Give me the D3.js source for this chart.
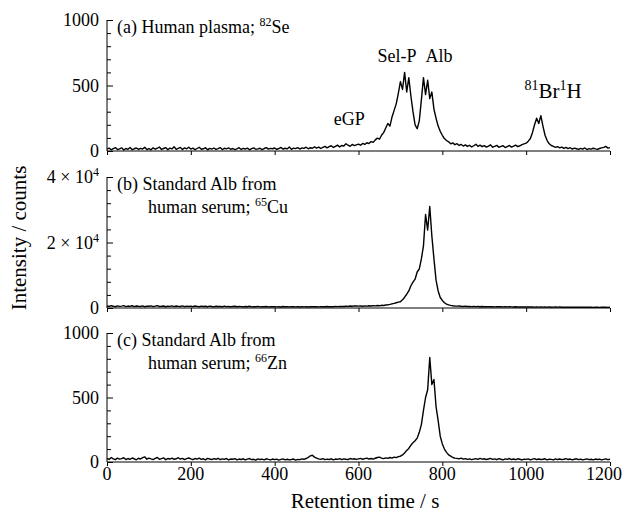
<!DOCTYPE html>
<html>
<head>
<meta charset="utf-8">
<script src="https://cdn.jsdelivr.net/npm/d3@7"></script>
<style>
  body { margin: 0; background: #fff; }
</style>
</head>
<body>
<svg width="624" height="515"></svg>
<script>
        // Sampling grid of the chromatograms (s)
        var sampleStep = 5;
        var times = d3.range(0, 1201, sampleStep);
        var xTicks = [0, 200, 400, 600, 800, 1000, 1200];

        // (a) Human plasma, 82Se (counts)
        var seCounts = [
            14,22,9,18,26,11,16,24,8,19,13,27,10,17,23,12,20,15,28,11,
            18,9,24,14,21,30,12,19,26,10,22,16,33,13,20,27,11,24,17,29,
            15,22,10,19,28,13,17,25,9,20,14,23,12,18,26,11,21,16,24,13,
            19,10,17,25,12,20,15,22,9,18,24,13,16,21,11,19,26,14,20,17,
            23,12,19,27,14,21,16,30,13,22,18,26,15,24,20,29,17,25,21,31,
            22,30,19,28,35,24,33,40,27,36,45,31,42,38,55,44,36,50,41,47,
            52,44,58,50,63,57,72,66,85,98,90,120,140,175,210,190,260,310,360,440,
            530,470,600,450,560,420,300,200,170,230,390,560,430,540,400,450,320,250,190,150,
            120,95,80,70,55,62,48,56,42,50,38,47,35,44,31,40,52,36,45,33,
            41,30,38,47,29,36,43,28,35,40,26,34,42,30,37,45,33,40,48,55,
            60,75,95,140,200,250,210,270,190,120,80,55,42,35,28,33,24,30,20,27,
            18,25,14,22,17,12,20,15,23,11,18,14,21,16,12,19,24,28,35,22,
            26
        ];

        // (b) Standard Alb from human serum, 65Cu (counts)
        var cuCounts = [
            600,450,700,520,380,650,480,560,720,410,590,500,680,430,610,520,470,640,390,560,
            520,640,410,580,700,460,530,620,380,560,490,660,420,600,510,450,630,400,570,480,
            540,430,610,490,380,560,450,520,400,580,470,350,530,440,500,390,560,420,480,370,
            450,520,380,490,410,360,470,400,520,350,430,390,480,340,420,380,450,330,400,370,
            420,350,390,310,440,360,400,330,380,420,340,390,310,370,350,400,320,380,360,410,
            380,340,420,360,390,450,370,430,400,480,420,460,510,440,550,500,590,530,640,600,
            560,610,520,640,580,690,600,720,650,760,700,820,780,900,980,1100,1250,1400,1600,1800,
            1900,2500,3300,4200,5200,6800,7900,8800,11000,11900,15000,19000,28600,23800,31000,22000,15000,8500,5200,3200,
            2300,1600,1200,950,800,700,620,560,600,520,480,540,460,500,430,470,410,450,390,440,
            400,430,370,420,380,350,410,360,390,340,380,330,370,350,320,360,300,340,310,350,
            320,290,340,300,270,310,280,320,260,300,270,290,250,280,300,260,290,240,270,250,
            280,240,260,230,270,220,250,240,210,260,230,250,200,240,220,190,230,210,240,200,
            220
        ];

        // (c) Standard Alb from human serum, 66Zn (counts)
        var znCounts = [
            28,20,35,24,18,30,22,26,33,19,27,21,31,25,17,29,23,34,40,22,
            30,24,19,28,35,21,26,32,18,27,23,30,20,25,33,22,28,19,26,31,
            24,18,27,22,30,20,25,17,28,23,19,26,21,29,18,24,20,27,16,23,
            21,26,17,23,19,25,16,22,27,18,21,15,24,19,22,17,25,20,16,23,
            18,22,15,20,24,17,21,16,19,23,15,20,18,24,21,27,35,48,52,38,
            30,24,20,26,18,22,19,25,17,23,20,26,18,24,21,19,27,22,25,20,
            24,28,21,26,30,23,27,22,29,35,38,30,26,32,28,35,30,38,34,42,
            45,55,70,90,105,130,150,165,185,230,290,400,500,560,810,600,640,430,320,200,
            140,100,75,55,45,35,30,28,24,30,22,26,20,24,18,22,26,20,28,22,
            25,19,23,28,20,24,18,26,21,17,24,20,27,19,23,18,25,21,16,22,
            20,24,17,22,26,18,23,19,21,25,17,22,20,16,24,19,23,18,21,26,
            19,23,17,21,25,18,22,16,20,24,18,21,17,23,19,22,16,20,24,18,
            21
        ];

        // Y ticks for each panel
        var yMajorA = [0, 500, 1000];
        var yMajorB = [0, 20000, 40000];
        var yMajorC = [0, 500, 1000];

        var serif = "'Liberation Serif', 'Times New Roman', Times, 'DejaVu Serif', serif";

        var svg = d3.select("svg")
                    .attr("font-family", serif);

        var xScale = d3.scaleLinear()
                        .domain([0, 1200])
                        .range([107, 610]);

        var panels = [
            {data: seCounts, major: yMajorA, minorStep: 100, top: 20, bottom: 151, xLabels: false,
             label: [["(a) Human plasma; ", "82", "Se"]]},
            {data: cuCounts, major: yMajorB, minorStep: 4000, top: 177, bottom: 308, xLabels: false, power: true,
             label: [["(b) Standard Alb from"], ["human serum; ", "65", "Cu"]]},
            {data: znCounts, major: yMajorC, minorStep: 100, top: 333, bottom: 462, xLabels: true,
             label: [["(c) Standard Alb from"], ["human serum; ", "66", "Zn"]]}
        ];

        function addText(sel) {
            return sel.append("text")
                .attr("font-family", serif)
                .attr("fill", "#000");
        }

        panels.forEach(function(p, k) {
            var yMax = d3.max(p.major);
            var yScale = d3.scaleLinear()
                            .domain([0, yMax])
                            .range([p.bottom, p.top]);
            p.yScale = yScale;

            var g = svg.append("g");

            // trace
            var line = d3.line()
                .x(function(d, i) { return xScale(times[i]); })
                .y(function(d) { return yScale(d); });

            g.append("path")
                .datum(p.data)
                .attr("d", line)
                .attr("fill", "none")
                .attr("stroke", "#000")
                .attr("stroke-width", 1.4)
                .attr("stroke-linejoin", "round");

            // y axis, ticks pointing inside
            var yAxis = d3.axisRight(yScale)
                .tickValues(d3.range(0, yMax + 1, p.minorStep))
                .tickSize(4)
                .tickFormat("");
            var ya = g.append("g")
                .attr("transform", "translate(107,0)")
                .call(yAxis);
            ya.selectAll("line").attr("stroke", "#000").attr("stroke-width", 1);
            ya.select(".domain").attr("d", "M0," + p.top + "V" + p.bottom).attr("stroke", "#000");
            ya.selectAll(".tick line").filter(function(d) { return p.major.indexOf(d) >= 0; })
                .attr("x2", 6);

            // y tick labels
            p.major.forEach(function(v) {
                var t = addText(g)
                    .attr("x", 99)
                    .attr("y", yScale(v))
                    .attr("dy", "0.35em")
                    .attr("text-anchor", "end")
                    .attr("font-size", "18px");
                if (p.power && v > 0) {
                    t.append("tspan").text((v / 10000) + " \u00d7 10");
                    t.append("tspan").attr("font-size", "12px").attr("dy", "-7").text("4");
                } else {
                    t.text(v);
                }
            });

            // x axis, ticks pointing outside
            var xAxis = d3.axisBottom(xScale)
                .tickValues(xTicks)
                .tickSize(4)
                .tickFormat("");
            var xa = g.append("g")
                .attr("transform", "translate(0," + p.bottom + ")")
                .call(xAxis);
            xa.selectAll("line").attr("stroke", "#000");
            xa.select(".domain").attr("d", "M107,0H610").attr("stroke", "#000");

            if (p.xLabels) {
                xTicks.forEach(function(v, i) {
                    var last = i === xTicks.length - 1;
                    addText(g)
                        .attr("x", last ? 622 : xScale(v))
                        .attr("y", p.bottom + 18)
                        .attr("text-anchor", last ? "end" : "middle")
                        .attr("font-size", "18px")
                        .text(v);
                });
            }

            // panel label
            p.label.forEach(function(parts, j) {
                var t = addText(g)
                    .attr("x", j === 0 ? 117 : 148)
                    .attr("y", p.top + 13 + j * 23)
                    .attr("font-size", "18px");
                t.append("tspan").text(parts[0]);
                if (parts.length > 1) {
                    t.append("tspan").attr("font-size", "12px").attr("dy", "-7").text(parts[1]);
                    t.append("tspan").attr("dy", "7").text(parts[2]);
                }
            });
        });

        // Peak names in panel (a)
        var yA = panels[0].yScale;
        var peakNames = ["eGP", "Sel-P", "Alb"];
        var peakTimes = [578, 692, 792];
        var peakLevels = [198, 680, 680];
        peakNames.forEach(function(n, i) {
            addText(svg)
                .attr("x", xScale(peakTimes[i]))
                .attr("y", yA(peakLevels[i]))
                .attr("text-anchor", "middle")
                .attr("font-size", "18px")
                .text(n);
        });
        var brh = addText(svg)
            .attr("x", xScale(1064))
            .attr("y", yA(405))
            .attr("text-anchor", "middle")
            .attr("font-size", "21px");
        brh.append("tspan").attr("font-size", "14px").attr("dy", "-8").text("81");
        brh.append("tspan").attr("dy", "8").text("Br");
        brh.append("tspan").attr("font-size", "14px").attr("dy", "-8").text("1");
        brh.append("tspan").attr("dy", "8").text("H");

        // Axis titles
        addText(svg)
            .attr("x", 365)
            .attr("y", 508)
            .attr("text-anchor", "middle")
            .attr("font-size", "21px")
            .text("Retention time / s");

        addText(svg)
            .attr("transform", "translate(26,238) rotate(-90)")
            .attr("text-anchor", "middle")
            .attr("font-size", "21px")
            .text("Intensity / counts");
</script>
</body>
</html>
